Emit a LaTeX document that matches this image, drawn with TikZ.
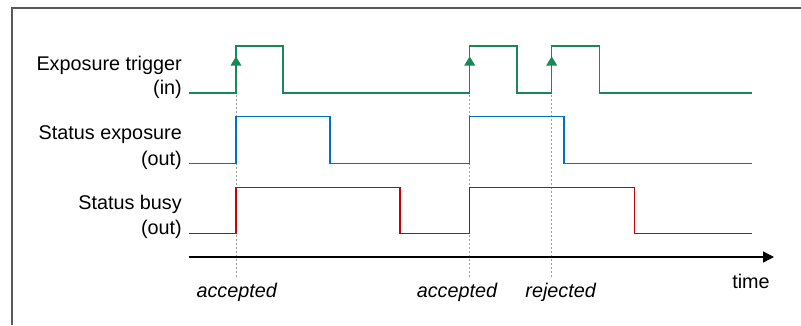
\documentclass[tikz,border=0pt]{standalone}
\usepackage{fontspec}
\setmainfont{Liberation Sans}
\usetikzlibrary{arrows.meta}
\definecolor{trig}{RGB}{24,136,88}
\definecolor{expo}{RGB}{0,114,198}
\definecolor{busy}{RGB}{204,0,0}
\definecolor{framec}{RGB}{90,90,90}
\begin{document}
\begin{tikzpicture}[x=1pt,y=-1pt,
  sig/.style={line width=1.4pt},
  lbl/.style={anchor=east,inner sep=0pt,font=\fontsize{19.8}{22}\selectfont},
  evt/.style={inner sep=0pt,font=\fontsize{19.8}{22}\selectfont\itshape},
  guide/.style={gray!75,line width=1pt,dash pattern=on 2pt off 2pt},
  trigtip/.style={fill=trig,draw=none}]
\useasboundingbox (0,0) rectangle (801,325);
\draw[framec,line width=2pt] (11.5,325) -- (11.5,7.5) -- (801,7.5);
% labels
\node[lbl] (l1) at (182,65) {Exposure trigger};
\node[lbl] (l2) at (182,89) {(in)};
\node[lbl] (l3) at (182,135) {Status exposure};
\node[lbl] (l4) at (182,160) {(out)};
\node[lbl] (l5) at (182,204) {Status busy};
\node[lbl] (l6) at (182,229) {(out)};
% guide coordinates
\coordinate (g1t) at (236,95);  \coordinate (g1b) at (236,278);
\coordinate (g2t) at (469.7,95); \coordinate (g2b) at (469.7,278);
\coordinate (g3t) at (551.7,95); \coordinate (g3b) at (551.7,278);
\draw[guide] (g1t) -- (g1b);
\draw[guide] (g2t) -- (g2b);
\draw[guide] (g3t) -- (g3b);
% signals
\draw[sig,trig] (189,93) -- (236,93) -- (236,46) -- (283,46) -- (283,93) -- (469.7,93) -- (469.7,46) -- (517,46) -- (517,93) -- (551.7,93) -- (551.7,46) -- (599.3,46) -- (599.3,93) -- (751.7,93);
\foreach \x in {236,469.7,551.7}
  \fill[trigtip] (\x,56.5) -- (\x-5.5,65.5) -- (\x+5.5,65.5) -- cycle;
\draw[sig,expo] (189,163.3) -- (236,163.3) -- (236,116.7) -- (330,116.7) -- (330,163.3) -- (469.7,163.3) -- (469.7,116.7) -- (564,116.7) -- (564,163.3) -- (751.7,163.3);
\draw[sig,busy] (189,233.3) -- (236,233.3) -- (236,187.3) -- (400,187.3) -- (400,233.3) -- (469.7,233.3) -- (469.7,187.3) -- (634.3,187.3) -- (634.3,233.3) -- (751.7,233.3);
% time axis
\coordinate (t0) at (189,257);
\coordinate (t1) at (774,257);
\draw[line width=1.4pt,-{Triangle[length=11pt,width=11pt]}] (t0) -- (t1);
\node[inner sep=0pt,font=\fontsize{19.8}{22}\selectfont] (time) at (751,281) {time};
\node[evt] (a1) at (236.7,292) {accepted};
\node[evt] (a2) at (457,292) {accepted};
\node[evt] (r1) at (560.7,292) {rejected};
\end{tikzpicture}
\end{document}
